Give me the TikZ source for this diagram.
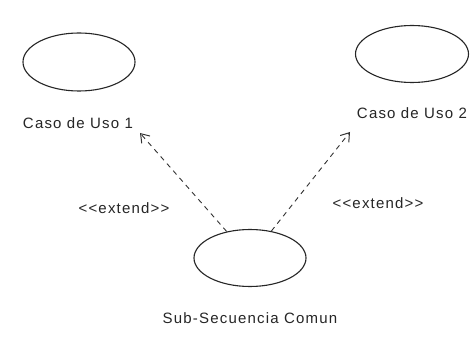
\documentclass[tikz,border=0pt]{standalone}
\usepackage{fontspec}
\setmainfont{Liberation Sans}[LetterSpace=8,Ligatures=TeXOff]
\usetikzlibrary{shapes.geometric,arrows.meta}
\tikzset{
  usecase/.style={draw=black!85, line width=1.1pt, ellipse, inner sep=0pt},
  label/.style={font=\fontsize{15}{18}\selectfont, text=black!85, inner sep=0pt},
  extendarrow/.style={draw=black!80, line width=0.9pt, dash pattern=on 5pt off 4.5pt,
    -{Straight Barb[length=8pt,width=11pt,line width=1pt]}}
}
\begin{document}
\begin{tikzpicture}[x=1pt,y=-1pt]
\useasboundingbox[fill=white] (0,0) rectangle (474,339);
\node[usecase, minimum width=112pt, minimum height=58pt] (uc1) at (79,62) {};
\node[usecase, minimum width=113pt, minimum height=57pt] (uc2) at (412,54) {};
\node[usecase, minimum width=112pt, minimum height=57pt] (uc3) at (250,258) {};
\node[label] (l1) at (78,123) {Caso de Uso 1};
\node[label] (l2) at (412,113) {Caso de Uso 2};
\node[label] (l3) at (250,318) {Sub-Secuencia Comun};
\node[label] (e1) at (124,208) {<<extend>>};
\node[label] (e2) at (378,203) {<<extend>>};
\coordinate (t1) at (140,133);
\coordinate (t2) at (350,132);
\draw[extendarrow] (uc3) -- (t1);
\draw[extendarrow] (uc3) -- (t2);
\end{tikzpicture}
\end{document}
